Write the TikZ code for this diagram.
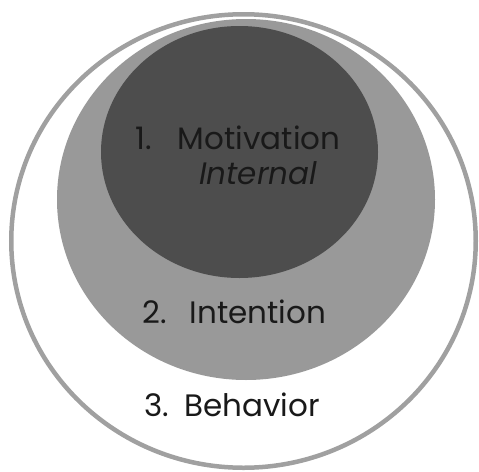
\documentclass[tikz,border=0pt]{standalone}
\usepackage{fontspec}
\setmainfont{Poppins}
\usepackage{xcolor}
\usetikzlibrary{shapes,positioning}
\definecolor{ringgray}{HTML}{A0A0A0}
\definecolor{midgray}{HTML}{999999}
\definecolor{darkgray}{HTML}{4D4D4D}

\begin{document}
\begin{tikzpicture}[x=1pt,y=-1pt,
    layer/.style={shape=ellipse,inner sep=0pt},
    lbl/.style={anchor=west,inner sep=0pt,font=\fontsize{31}{34}\selectfont,text=black!90}]
    \useasboundingbox (0,0) rectangle (479,471);
    \node[layer,draw=ringgray,line width=4.5pt,fill=white,minimum width=464.5pt,minimum height=453.5pt] (behav) at (243.5,241) {};
    \node[layer,fill=midgray,minimum width=378pt,minimum height=361pt] (intent) at (246,199.5) {};
    \node[layer,fill=darkgray,minimum width=277pt,minimum height=252pt] (motiv) at (239.5,152) {};
    \node[lbl] (t1) at (135,138) {1.\hspace{0.85em}Motivation};
    \node[lbl,font=\fontsize{31}{34}\selectfont\itshape] (t1b) at (199,173) {Internal};
    \node[lbl] (t2) at (142,312) {2.\hspace{0.75em}Intention};
    \node[lbl] (t3) at (144,405) {3.\hspace{0.5em}Behavior};
\end{tikzpicture}
\end{document}
